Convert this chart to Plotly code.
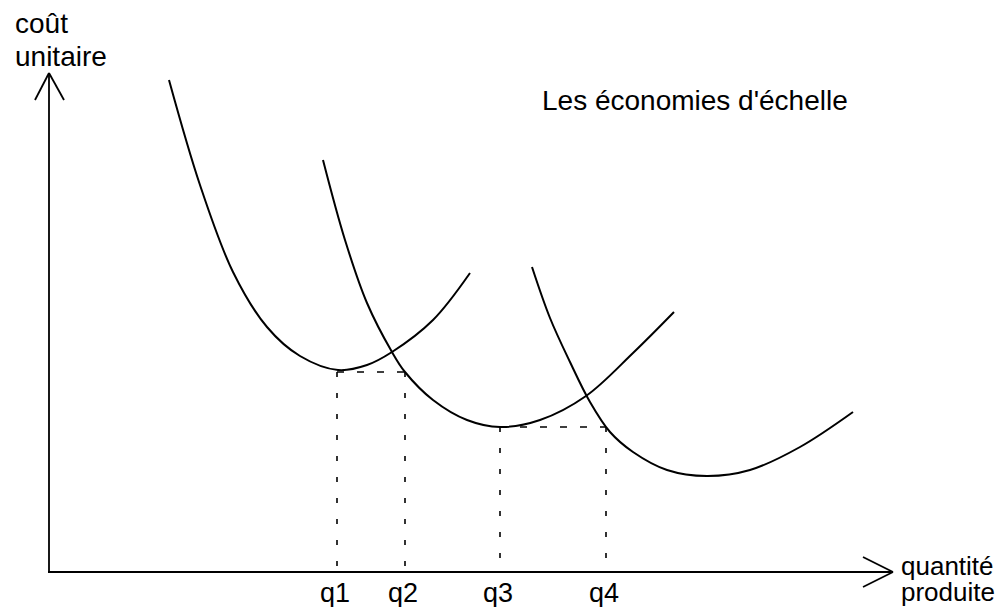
import plotly.graph_objects as go

# Data (quantity, unit cost) in chart units
curve1_q = [120, 151, 184, 218, 251, 289, 318, 343, 384, 421]
curve1_c = [492, 387, 300, 245, 216, 202, 207, 220, 252, 299]

curve2_q = [274, 296, 318, 343, 356, 384, 418, 451, 491, 537, 584, 625]
curve2_c = [412, 332, 269, 220, 200, 172, 152, 145, 152, 176, 219, 260]

curve3_q = [483, 501, 521, 541, 561, 584, 618, 658, 701, 751, 804]
curve3_c = [305, 254, 210, 170, 140, 120, 102, 96, 102, 125, 160]

q_labels = ["q1", "q2", "q3", "q4"]
q_values = [288, 356, 451, 557]
cost_levels = [200, 200, 145, 145]

FONT = "Liberation Sans, Arial, Helvetica, sans-serif"

fig = go.Figure()

curve_style = dict(mode="lines", line=dict(color="black", width=2, shape="spline", smoothing=1.0),
                   hoverinfo="skip", showlegend=False)
for qs, cs in [(curve1_q, curve1_c), (curve2_q, curve2_c), (curve3_q, curve3_c)]:
    fig.add_trace(go.Scatter(x=qs, y=cs, **curve_style))

# dashed vertical lines from each q up to its cost level
for qv, lv in zip(q_values, cost_levels):
    fig.add_trace(go.Scatter(x=[qv, qv], y=[lv, 0], mode="lines",
                             line=dict(color="black", width=1.6, dash="5px,16px"),
                             hoverinfo="skip", showlegend=False))
# dashed horizontal lines between pairs
for i in (0, 2):
    fig.add_trace(go.Scatter(x=[q_values[i], q_values[i + 1]], y=[cost_levels[i], cost_levels[i + 1]],
                             mode="lines", line=dict(color="black", width=1.6, dash="7px,13px"),
                             hoverinfo="skip", showlegend=False))

# axes with open arrowheads
axis_line = dict(color="black", width=1.8)
fig.add_shape(type="line", x0=0, y0=0, x1=0, y1=499, line=axis_line)
fig.add_shape(type="line", x0=-14, y0=472, x1=0, y1=499, line=axis_line)
fig.add_shape(type="line", x0=15, y0=472, x1=0, y1=499, line=axis_line)
fig.add_shape(type="line", x0=-1, y0=0, x1=844, y1=0, line=axis_line)
fig.add_shape(type="line", x0=814, y0=15, x1=844, y1=0, line=axis_line)
fig.add_shape(type="line", x0=814, y0=-15, x1=844, y1=0, line=axis_line)

def txt(x, y, s, size, xanchor="left"):
    fig.add_annotation(x=x, y=y, text=s, showarrow=False, xanchor=xanchor, yanchor="middle",
                       font=dict(family=FONT, size=size, color="black"))

txt(-36, 549, "coût", 28)
txt(-36, 516, "unitaire", 28)
txt(491, 472, "Les économies d'échelle", 28)
txt(850, 6, "quantité", 26)
txt(850, -20, "produite", 26)
for lab, qv in zip(q_labels, q_values):
    txt(qv - 2, -21, lab, 27, xanchor="center")

# the page body has an 8px margin: the figure is sized/ranged so the drawing
# lands where the reference has it, without overflowing the window
fig.update_layout(
    width=996, height=599, autosize=False,
    margin=dict(l=0, r=0, t=0, b=0),
    paper_bgcolor="white", plot_bgcolor="white",
    xaxis=dict(range=[-41, 955], visible=False, fixedrange=True),
    yaxis=dict(range=[-35, 564], visible=False, fixedrange=True),
    showlegend=False,
)

fig.write_html("out.html", config={"displayModeBar": False})
